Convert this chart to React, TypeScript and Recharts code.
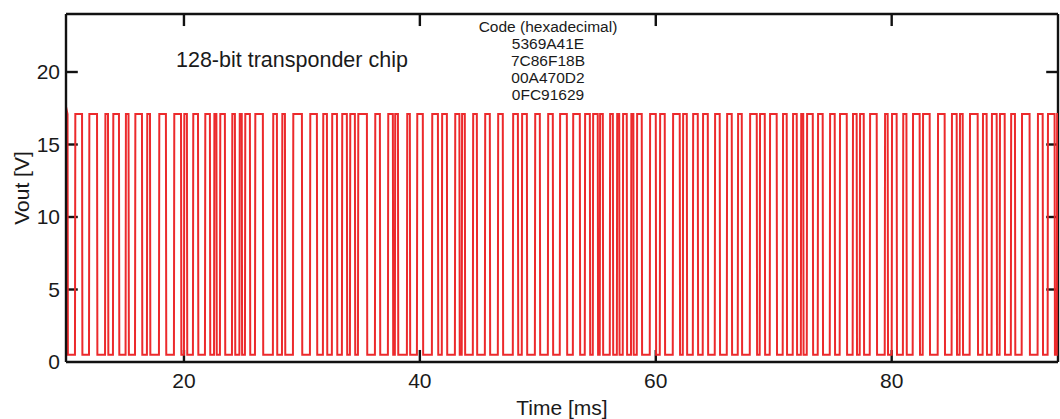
import { Line, LineChart, ReferenceLine, XAxis, YAxis } from "recharts";

const X_TICKS = [20, 40, 60, 80];
const Y_TICKS = [0, 5, 10, 15, 20];
const X_DOMAIN: [number, number] = [10, 94.1];
const Y_DOMAIN: [number, number] = [0, 24];

const START_V = 17.6;
const HIGH_V = 17.1;
const LOW_V = 0.5;

// times (ms) where the output toggles, trace starts high at 10 ms
const EDGES_MS = [
  10.13, 10.76, 11.36, 11.95, 12.63, 13.31, 13.56, 13.98, 14.49, 15.05, 15.3, 15.85, 16.44,
  16.86, 17.12, 17.88, 18.47, 19.15, 19.75, 20.0, 20.25, 20.76, 21.19, 21.78, 22.2, 22.55,
  22.75, 23.05, 23.47, 24.07, 24.32, 24.7, 24.9, 25.17, 25.59, 26.02, 26.69, 27.54, 27.88,
  28.31, 28.56, 29.24, 30.0, 30.68, 31.27, 31.78, 32.12, 32.54, 32.97, 33.39, 33.81, 34.07,
  34.49, 34.75, 35.51, 36.19, 36.61, 37.29, 37.71, 37.88, 38.14, 38.9, 39.15, 39.75, 40.25,
  41.02, 41.53, 41.86, 42.29, 42.97, 43.35, 43.55, 43.81, 44.49, 44.83, 45.51, 45.93, 46.61,
  47.03, 47.88, 48.31, 48.64, 49.07, 49.75, 50.17, 50.85, 51.27, 51.86, 52.46, 52.97, 53.56,
  53.98, 54.41, 54.66, 55.08, 55.25, 55.51, 56.1, 56.36, 56.7, 56.9, 57.2, 57.54, 57.9, 58.1,
  58.39, 58.81, 59.49, 60.0, 60.34, 60.76, 61.44, 62.03, 62.29, 62.63, 63.14, 63.56, 63.98,
  64.41, 65.0, 65.42, 66.02, 66.44, 66.95, 67.29, 67.97, 68.56, 68.81, 69.24, 69.66, 70.25,
  70.76, 71.1, 71.61, 71.95, 72.3, 72.5, 72.8, 73.31, 73.73, 74.15, 74.75, 75.17, 75.59,
  76.19, 76.69, 77.03, 77.29, 77.63, 78.14, 78.73, 79.41, 79.66, 80.0, 80.42, 80.95, 81.25,
  81.78, 82.37, 82.63, 83.22, 83.9, 84.49, 85.08, 85.51, 85.76, 86.02, 86.61, 87.29, 87.71,
  88.05, 88.47, 88.9, 89.15, 89.58, 90.1, 90.45, 91.02, 91.69, 92.37, 92.8, 93.22, 93.81,
  94.0,
];

const TITLE = "128-bit transponder chip";
const CODE_TITLE = "Code (hexadecimal)";
const CODE_WORDS = ["5369A41E", "7C86F18B", "00A470D2", "0FC91629"];

const FONT = '"Liberation Sans", Arial, Helvetica, sans-serif';
const AXIS = "#111";
const RED = "#ec2a2c";
const TXT = "#1a1a1a";

function buildTrace() {
  const pts: { t: number; v: number }[] = [{ t: X_DOMAIN[0], v: START_V }];
  let high = true;
  for (const e of EDGES_MS) {
    pts.push({ t: e, v: high ? HIGH_V : LOW_V });
    high = !high;
    pts.push({ t: e + 0.03, v: high ? HIGH_V : LOW_V });
  }
  pts.push({ t: X_DOMAIN[1], v: high ? HIGH_V : LOW_V });
  return pts;
}

export default function App() {
  const data = buildTrace();
  const tickStyle = { fontSize: 21, fill: TXT, fontFamily: FONT };

  return (
    <div style={{ position: "absolute", left: 0, top: 0, width: 1060, height: 419, background: "#fff", fontFamily: FONT }}>
      <LineChart width={1060} height={419} data={data} margin={{ top: 14, right: 2, left: 0, bottom: 0 }}>
        <XAxis
          dataKey="t"
          type="number"
          domain={X_DOMAIN}
          ticks={X_TICKS}
          allowDataOverflow
          height={57}
          tickLine={false}
          tickSize={0}
          tickMargin={11}
          tick={tickStyle}
          axisLine={{ stroke: AXIS, strokeWidth: 2.4 }}
          label={{ value: "Time [ms]", position: "insideBottom", offset: 4, fontSize: 21, fill: TXT, fontFamily: FONT }}
        />
        <YAxis
          type="number"
          domain={Y_DOMAIN}
          ticks={Y_TICKS}
          width={66}
          tickLine={false}
          tickSize={0}
          tickMargin={6}
          tick={tickStyle}
          axisLine={{ stroke: AXIS, strokeWidth: 2.4 }}
          label={{
            content: (props: any) => {
              const vb = props.viewBox || { x: 0, y: 0, width: 66, height: 348 };
              const cx = vb.x + 21;
              const cy = vb.y + vb.height / 2;
              return (
                <text
                  x={cx}
                  y={cy}
                  transform={`rotate(-90 ${cx} ${cy})`}
                  textAnchor="middle"
                  dominantBaseline="central"
                  fontSize={21}
                  fill={TXT}
                  fontFamily={FONT}
                >
                  Vout [V]
                </text>
              );
            },
          }}
        />
        <ReferenceLine y={Y_DOMAIN[1]} stroke={AXIS} strokeWidth={2.4} />
        <ReferenceLine x={X_DOMAIN[1]} stroke={AXIS} strokeWidth={2.4} />
        {X_TICKS.map((v) => (
          <ReferenceLine
            key={`b${v}`}
            segment={[{ x: v, y: 0 }, { x: v, y: 0.83 }]}
            stroke={AXIS}
            strokeWidth={2.4}
          />
        ))}
        {X_TICKS.map((v) => (
          <ReferenceLine
            key={`t${v}`}
            segment={[{ x: v, y: Y_DOMAIN[1] }, { x: v, y: Y_DOMAIN[1] - 0.83 }]}
            stroke={AXIS}
            strokeWidth={2.4}
          />
        ))}
        {Y_TICKS.filter((v) => v > 0).map((v) => (
          <ReferenceLine
            key={`l${v}`}
            segment={[{ x: X_DOMAIN[0], y: v }, { x: X_DOMAIN[0] + 1, y: v }]}
            stroke={AXIS}
            strokeWidth={2.4}
          />
        ))}
        {Y_TICKS.filter((v) => v > 0).map((v) => (
          <ReferenceLine
            key={`r${v}`}
            segment={[{ x: X_DOMAIN[1] - 1, y: v }, { x: X_DOMAIN[1], y: v }]}
            stroke={AXIS}
            strokeWidth={2.4}
          />
        ))}
        <Line
          type="linear"
          dataKey="v"
          stroke={RED}
          strokeWidth={2}
          dot={false}
          isAnimationActive={false}
        />
      </LineChart>
      <div style={{ position: "absolute", left: 176, top: 48, fontSize: 21.5, lineHeight: "24px", color: TXT, whiteSpace: "nowrap" }}>
        {TITLE}
      </div>
      <div
        style={{
          position: "absolute",
          left: 548,
          top: 18,
          transform: "translateX(-50%)",
          textAlign: "center",
          fontSize: 15.5,
          lineHeight: "17px",
          color: TXT,
          whiteSpace: "nowrap",
        }}
      >
        <div>{CODE_TITLE}</div>
        {CODE_WORDS.map((w) => (
          <div key={w}>{w}</div>
        ))}
      </div>
    </div>
  );
}
